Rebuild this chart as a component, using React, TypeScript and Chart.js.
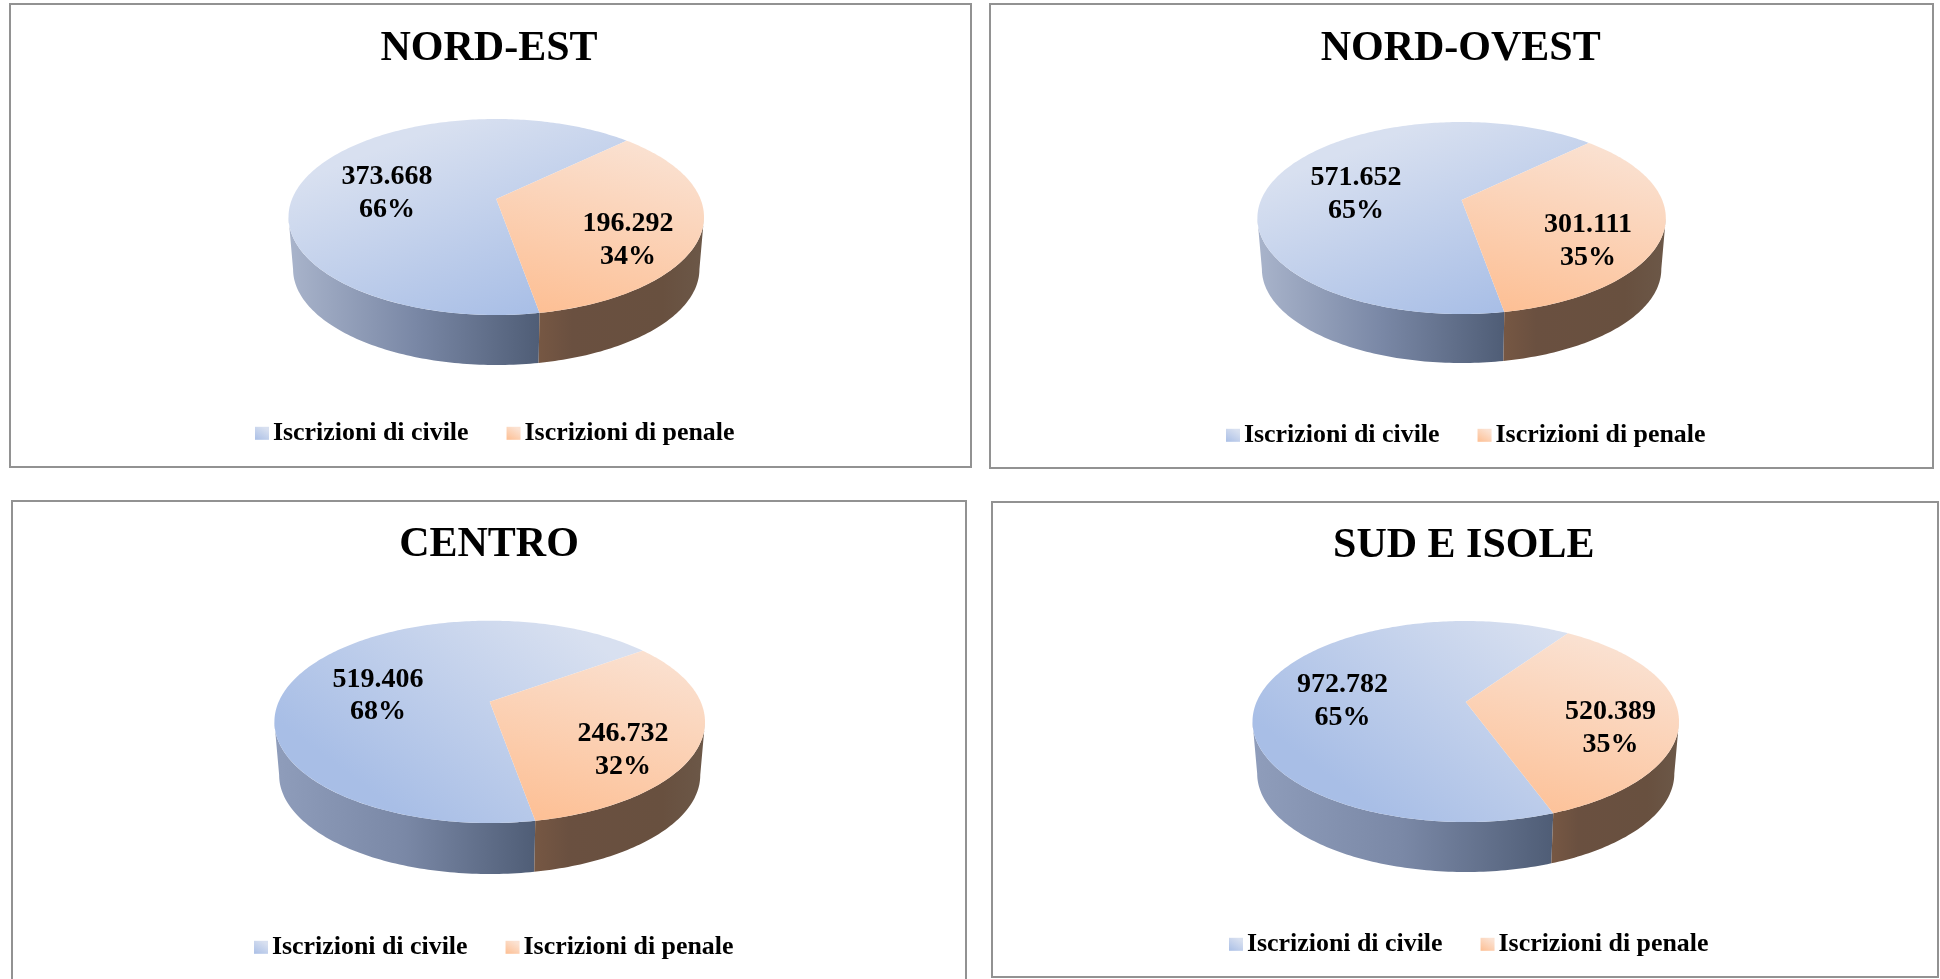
import React, { useEffect, useRef } from "react";
import { Chart, registerables } from "chart.js";

Chart.register(...registerables);

const regions = ["NORD-EST", "NORD-OVEST", "CENTRO", "SUD E ISOLE"];
const seriesNames = ["Iscrizioni di civile", "Iscrizioni di penale"];
const civile = [373668, 571652, 519406, 972782];
const penale = [196292, 301111, 246732, 520389];

const FONT = "'Liberation Serif', 'Times New Roman', serif";

type Layout = {
  box: number[]; // left, top, right, bottom (page px)
  pie: { left: number; right: number; top: number; apex: number; bottom: number; wall: number };
  rotation: number;
  shade: number; // horizontal lean of the light on the civil slice
  wallLight: string;
  title: number[]; // centre x, centre y
  legend: number[]; // left, centre y
  labels: number[][]; // civil x,y1,y2 ; penal x,y1,y2
};

const layouts: Layout[] = [
  {
    box: [9, 3, 972, 468],
    pie: { left: 288.5, right: 704, top: 119, apex: 199, bottom: 315, wall: 365 },
    rotation: 170,
    shade: -0.18,
    wallLight: "#a9b4cb",
    title: [489, 49],
    legend: [255, 433.3],
    labels: [[387, 176.5, 209.5], [628, 224, 257]],
  },
  {
    box: [989, 3, 1934, 469],
    pie: { left: 1257.4, right: 1665.8, top: 122, apex: 200, bottom: 314, wall: 363 },
    rotation: 170,
    shade: -0.18,
    wallLight: "#a9b4cb",
    title: [1460.7, 49],
    legend: [1226, 435.3],
    labels: [[1356, 178, 210.5], [1588, 224.5, 258]],
  },
  {
    box: [11, 500, 967, 1000],
    pie: { left: 274.4, right: 705, top: 620.7, apex: 701.7, bottom: 823, wall: 874 },
    rotation: 170,
    shade: 0.35,
    wallLight: "#8f9dbb",
    title: [489, 545.5],
    legend: [254, 947.3],
    labels: [[378, 679.5, 711.5], [623, 733.5, 766.5]],
  },
  {
    box: [991, 501, 1939, 978],
    pie: { left: 1252.5, right: 1679, top: 621, apex: 702, bottom: 822, wall: 872 },
    rotation: 160,
    shade: 0.35,
    wallLight: "#8f9dbb",
    title: [1463.8, 546],
    legend: [1229, 944.3],
    labels: [[1342.5, 684.5, 718], [1610.5, 711.5, 744.5]],
  },
];

function makeProjection(lay: Layout) {
  const ox = lay.box[0];
  const oy = lay.box[1];
  const p = lay.pie;
  const up = p.apex - p.top;
  const down = p.bottom - p.apex;
  const k = (down - up) / (down + up);
  const b = up * (1 + k);
  const rx = (p.right - p.left) / 2;
  const c = rx * Math.sqrt(1 - k * k);
  const cx = (p.left + p.right) / 2 - ox;
  const ay = p.apex - oy;
  const S = 0.978;
  const D = p.wall - p.apex - S * down;
  const project = (theta: number, lower = false) => {
    const u = Math.cos(theta);
    const v = Math.sin(theta);
    const w = 1 - k * v;
    const s = lower ? S : 1;
    return [cx + (s * c * u) / w, ay + (lower ? D : 0) + (s * b * v) / w];
  };
  return { project, k, cx, ay, rx, left: p.left - ox, right: p.right - ox, top: p.top - oy, bottom: p.bottom - oy };
}

function grad(ctx: CanvasRenderingContext2D, x0: number, y0: number, x1: number, y1: number, stops: [number, string][]) {
  const g = ctx.createLinearGradient(x0, y0, x1, y1);
  stops.forEach(([o, col]) => g.addColorStop(o, col));
  return g;
}

function makePlugin(lay: Layout, civ: number, pen: number) {
  const proj = makeProjection(lay);
  const ox = lay.box[0];
  const oy = lay.box[1];
  const total = civ + pen;
  const values = [civ, pen];
  let moved = false;
  return {
    id: "tilted",
    afterUpdate(chart: any) {
      const t = chart.titleBlock;
      if (t) {
        const lh = 42 * 1.2;
        t.left = lay.title[0] - ox - 300;
        t.right = lay.title[0] - ox + 300;
        t.top = lay.title[1] - oy - lh / 2;
        t.bottom = t.top + lh;
      }
      const l = chart.legend;
      if (l && !moved && l.legendHitBoxes.length) {
        moved = true;
        const h0 = l.legendHitBoxes[0];
        const dx = lay.legend[0] - ox - h0.left;
        const dy = lay.legend[1] - oy - (h0.top + h0.height / 2);
        l.left += dx;
        l.right += dx;
        l.top += dy;
        l.bottom += dy;
        l.legendHitBoxes.forEach((h: any) => {
          h.left += dx;
          h.top += dy;
        });
      }
    },
    beforeDatasetsDraw(chart: any) {
      const ctx: CanvasRenderingContext2D = chart.ctx;
      const { project, k, left, right, top, bottom } = proj;
      const els = chart.getDatasetMeta(0).data;
      const tan = Math.asin(k);
      const frontA = tan;
      const frontB = Math.PI - tan;
      const norm = (a: number) => {
        let x = a % (2 * Math.PI);
        if (x < 0) x += 2 * Math.PI;
        return x;
      };
      const split = norm(els[0].startAngle);
      const splitX = project(split)[0];
      const wallFill = [
        grad(ctx, left, 0, splitX, 0, [
          [0, lay.wallLight],
          [0.5, "#7a88a6"],
          [1, "#4f5d76"],
        ]),
        grad(ctx, splitX, 0, right, 0, [
          [0, "#765743"],
          [0.2, "#6a5040"],
          [0.75, "#68503f"],
          [1, "#6c5848"],
        ]),
      ];
      const ranges = [
        [split, frontB],
        [frontA, split],
      ];
      ranges.forEach(([a, b], i) => {
        if (b <= a) return;
        ctx.beginPath();
        const n = Math.ceil(((b - a) * 180) / Math.PI);
        for (let j = 0; j <= n; j++) {
          const pt = project(a + ((b - a) * j) / n);
          if (j === 0) ctx.moveTo(pt[0], pt[1]);
          else ctx.lineTo(pt[0], pt[1]);
        }
        for (let j = n; j >= 0; j--) {
          const pt = project(a + ((b - a) * j) / n, true);
          ctx.lineTo(pt[0], pt[1]);
        }
        ctx.closePath();
        ctx.fillStyle = wallFill[i];
        ctx.fill();
      });
      const tops = [
        grad(ctx, proj.cx + lay.shade * proj.rx, top, proj.cx - lay.shade * proj.rx, bottom, [
          [0, "#d8e0f0"],
          [1, "#a8bee6"],
        ]),
        grad(ctx, proj.cx + 0.35 * proj.rx, top, proj.cx + 0.1 * proj.rx, bottom, [
          [0, "#fae2d3"],
          [1, "#fdbe92"],
        ]),
      ];
      els.forEach((el: any, i: number) => {
        el.draw = (c: CanvasRenderingContext2D) => {
          const a = el.startAngle;
          const b = el.endAngle;
          const n = Math.ceil(((b - a) * 180) / Math.PI);
          c.beginPath();
          c.moveTo(proj.cx, proj.ay);
          for (let j = 0; j <= n; j++) {
            const pt = project(a + ((b - a) * j) / n);
            c.lineTo(pt[0], pt[1]);
          }
          c.closePath();
          c.fillStyle = tops[i];
          c.fill();
        };
      });
    },
    afterDraw(chart: any) {
      const ctx: CanvasRenderingContext2D = chart.ctx;
      ctx.save();
      const swatch = [
        ["#d8e0f0", "#aabfe6"],
        ["#fbe2d2", "#fdbe92"],
      ];
      chart.legend.legendHitBoxes.forEach((h: any, i: number) => {
        const y = h.top + h.height / 2 - 6.5;
        ctx.fillStyle = grad(ctx, h.left + 8, y, h.left, y + 13, [
          [0, swatch[i][0]],
          [1, swatch[i][1]],
        ]);
        ctx.fillRect(h.left, y, 14, 13);
      });
      ctx.fillStyle = "#000";
      ctx.font = `bold 28px ${FONT}`;
      ctx.textAlign = "center";
      ctx.textBaseline = "middle";
      values.forEach((v, i) => {
        const [x, y1, y2] = lay.labels[i];
        const text = String(v).replace(/\B(?=(\d{3})+$)/g, ".");
        ctx.fillText(text, x - ox, y1 - oy);
        ctx.fillText(`${Math.round((v / total) * 100)}%`, x - ox, y2 - oy);
      });
      ctx.restore();
    },
  };
}

function PiePanel({ index }: { index: number }) {
  const ref = useRef<HTMLCanvasElement>(null);
  const lay = layouts[index];
  const [x0, y0, x1, y1] = lay.box;
  useEffect(() => {
    const chart = new Chart(ref.current as HTMLCanvasElement, {
      type: "pie",
      data: {
        labels: seriesNames,
        datasets: [{ data: [civile[index], penale[index]], backgroundColor: ["#b9cbea", "#fcd0b0"], borderWidth: 0 }],
      },
      options: {
        responsive: false,
        animation: false,
        rotation: lay.rotation,
        layout: { padding: 0 },
        plugins: {
          tooltip: { enabled: false },
          title: {
            display: true,
            text: regions[index],
            color: "#000",
            font: { family: FONT, size: 42, weight: "bold" },
            padding: 0,
          },
          legend: {
            display: true,
            position: "bottom",
            labels: {
              color: "#000",
              font: { family: FONT, size: 25.9, weight: "bold" },
              boxWidth: 5,
              boxHeight: 13,
              padding: 38,
              generateLabels: () =>
                seriesNames.map((text, i) => ({
                  text,
                  index: i,
                  datasetIndex: 0,
                  fillStyle: "transparent",
                  strokeStyle: "transparent",
                  lineWidth: 0,
                  fontColor: "#000",
                })),
            },
          },
        },
      } as any,
      plugins: [makePlugin(lay, civile[index], penale[index])],
    });
    chart.draw();
    return () => chart.destroy();
  }, []);
  return (
    <>
      <div
        style={{
          position: "absolute",
          left: x0,
          top: y0,
          width: x1 - x0,
          height: y1 - y0,
          boxSizing: "border-box",
          border: "2px solid #929292",
          background: "#fff",
        }}
      />
      <canvas
        ref={ref}
        width={x1 - x0}
        height={y1 - y0}
        style={{ position: "absolute", left: x0, top: y0, width: x1 - x0, height: y1 - y0 }}
      />
    </>
  );
}

export default function App() {
  return (
    <div style={{ position: "fixed", left: 0, top: 0, width: 1940, height: 979, overflow: "hidden", background: "#fff" }}>
      {regions.map((_, i) => (
        <PiePanel key={i} index={i} />
      ))}
    </div>
  );
}
